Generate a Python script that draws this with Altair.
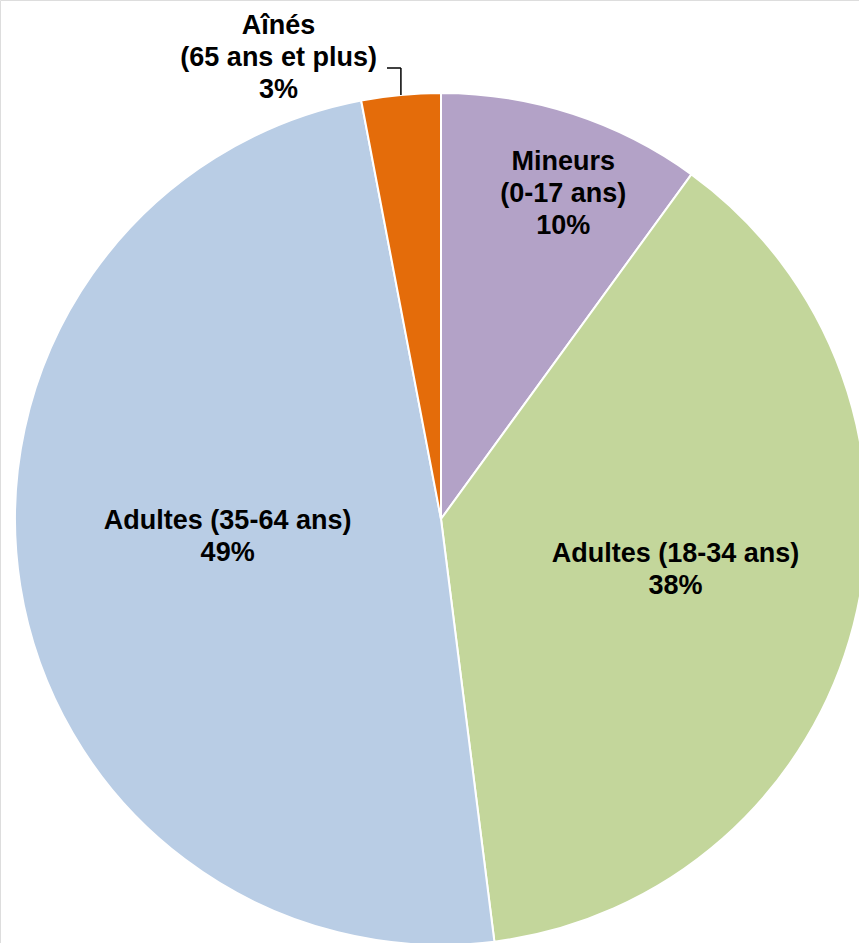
import math
import altair as alt
import pandas as pd

# Répartition par groupe d'âge
categories = ["Mineurs (0-17 ans)", "Adultes (18-34 ans)", "Adultes (35-64 ans)", "Aînés (65 ans et plus)"]
values = [10, 38, 49, 3]
labels = [
    ["Mineurs", "(0-17 ans)", "10%"],
    ["Adultes (18-34 ans)", "38%"],
    ["Adultes (35-64 ans)", "49%"],
    ["Aînés", "(65 ans et plus)", "3%"],
]
colors = ["#B3A2C7", "#C3D69B", "#B9CDE5", "#E46C0A"]

df = pd.DataFrame({
    "categorie": categories,
    "valeur": values,
    "ordre": list(range(len(categories))),
    "etiquette": labels,
})

W, H = 859, 943
CX, CY, R = 441, 519, 426
FONT = "Liberation Sans"
TOTAL = sum(values)

pie = alt.Chart(df).mark_arc(outerRadius=R, stroke="white", strokeWidth=2).encode(
    theta=alt.Theta("valeur:Q", stack=True,
                    scale=alt.Scale(domain=[0, TOTAL], range=[0, 2 * math.pi])),
    order=alt.Order("ordre:Q"),
    x=alt.value(CX),
    y=alt.value(CY),
    color=alt.Color("categorie:N", scale=alt.Scale(domain=categories, range=colors), legend=None),
)

# mid-angle of every slice, computed before any label is filtered out
label_base = alt.Chart(df).transform_window(
    cumul="sum(valeur)", sort=[alt.SortField("ordre")], frame=[None, 0]
).transform_calculate(
    milieu="datum.cumul - datum.valeur / 2"
).encode(
    theta=alt.Theta("milieu:Q", stack=None,
                    scale=alt.Scale(domain=[0, TOTAL], range=[0, 2 * math.pi])),
    x=alt.value(CX),
    y=alt.value(CY),
    text="etiquette",
)

# label placement per slice: (radius, dx, dy)
placement = {
    categories[0]: (347, 15, -27),
    categories[1]: (240, 2, -25),
    categories[2]: (214, -2, -31),
    categories[3]: (461, -119, -34),
}

texts = []
for cat, (rad, dx, dy) in placement.items():
    texts.append(
        label_base.mark_text(
            radius=rad, dx=dx, dy=dy, font=FONT, fontSize=27, fontWeight="bold",
            color="black", align="center", baseline="middle", lineHeight=32,
        ).transform_filter(alt.datum.categorie == cat)
    )

# leader line from the Aînés label down to its slice
cum_before = sum(values[:3])
mid = (cum_before + values[3] / 2) / TOTAL * 2 * math.pi
lx = CX + R * math.sin(mid)
ly = CY - R * math.cos(mid)
leader_h = alt.Chart(df.head(1)).mark_rule(color="black", strokeWidth=1.5).encode(
    x=alt.value(387), x2=alt.value(lx), y=alt.value(68)
)
leader_v = alt.Chart(df.head(1)).mark_rule(color="black", strokeWidth=1.5).encode(
    x=alt.value(lx), y=alt.value(68), y2=alt.value(ly)
)

chart = alt.layer(pie, *texts, leader_h, leader_v).properties(
    width=W, height=H, autosize=alt.AutoSizeParams(type="none"), padding=0
).configure_view(stroke=None).configure(background="white")

chart.save("out.html", embed_options={"renderer": "svg", "actions": False})
